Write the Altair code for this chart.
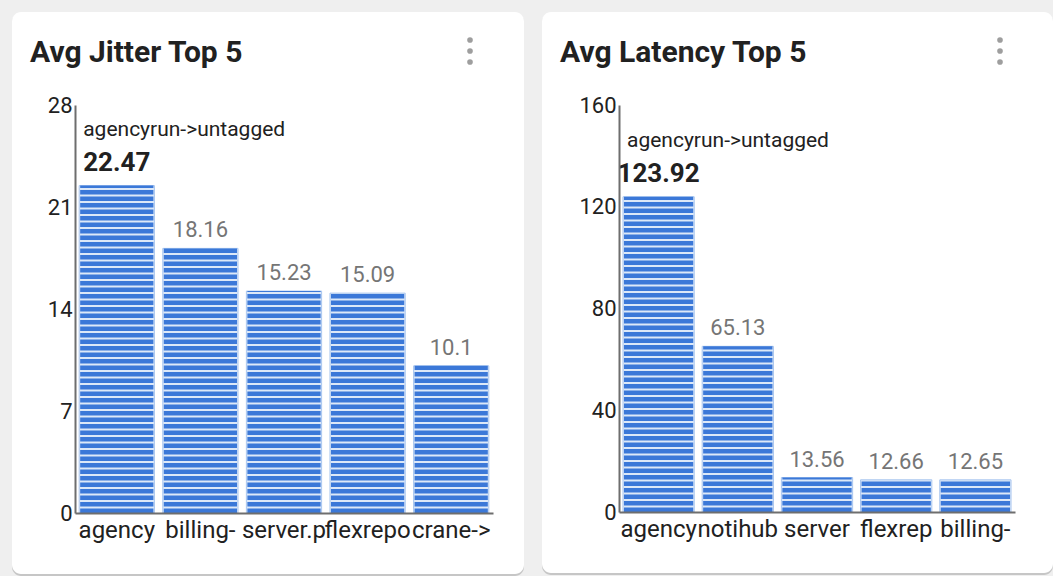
import altair as alt
import pandas as pd

# ---- data ----
jitter_cats = ["agency", "billing-", "server.p", "flexrepo", "crane->"]
jitter_vals = [22.47, 18.16, 15.23, 15.09, 10.1]
jitter_top_name = "agencyrun->untagged"
jitter_ticks = [0, 7, 14, 21, 28]

latency_cats = ["agency", "notihub", "server", "flexrep", "billing-"]
latency_vals = [123.92, 65.13, 13.56, 12.66, 12.65]
latency_top_name = "agencyrun->untagged"
latency_ticks = [0, 40, 80, 120, 160]

FONT = "Roboto"
BLUE = "#3b78d8"
GAP = "#dce8f8"
EDGE = "#a9c6ef"


def panel(title, cats, vals, top_name, ticks, width, height, rng, card, kebab_x):
    df = pd.DataFrame({"cat": cats, "value": vals, "zero": [0] * len(cats),
                       "rank": list(range(len(cats))), "name": [top_name] + [""] * (len(cats) - 1)})
    one = pd.DataFrame({"k": [0]})
    xs = alt.Scale(domain=cats, range=rng, paddingInner=0.1, paddingOuter=0.05)
    ys = alt.Scale(domain=[ticks[0], ticks[-1]], nice=False)
    x = alt.X("cat:N", scale=xs, sort=cats, title=None,
              axis=alt.Axis(labelAngle=0, labelFontSize=24, labelColor="#212121", labelFont=FONT,
                            labelPadding=5, ticks=False, domainColor="#6e6e6e", domainWidth=2,
                            labelOverlap=False, labelBound=False, labelLimit=0, zindex=2))
    bw = (rng[1] - rng[0]) / (len(cats) - 0.1 + 0.1) * 0.9

    cx0, cx1, cy0, cy1 = card
    shadow = alt.Chart(one).mark_rect(fill="#c6c6c6", cornerRadius=9).encode(
        x=alt.value(cx0), x2=alt.value(cx1), y=alt.value(cy0 + 1), y2=alt.value(cy1 + 2))
    cardm = alt.Chart(one).mark_rect(fill="white", cornerRadius=9).encode(
        x=alt.value(cx0), x2=alt.value(cx1), y=alt.value(cy0), y2=alt.value(cy1))
    titlem = alt.Chart(one).mark_text(text=title, align="left", baseline="alphabetic", font=FONT,
                                      fontSize=30, fontWeight="bold", color="#212121").encode(
        x=alt.value(cx0 + 18), y=alt.value(cy0 + 50))
    dots = [alt.Chart(one).mark_circle(size=32, color="#9e9e9e", opacity=1).encode(
        x=alt.value(kebab_x), y=alt.value(cy0 + dy)) for dy in (28, 39, 50)]

    bg = alt.Chart(df).mark_bar(fill=GAP, stroke=EDGE, strokeWidth=1).encode(
        x=x,
        y=alt.Y("value:Q", scale=ys, title=None,
                axis=alt.Axis(values=ticks, labelFontSize=22, labelColor="#212121", labelFont=FONT,
                              labelPadding=3, ticks=False, grid=False, domainColor="#6e6e6e",
                              domainWidth=2, zindex=2)))
    stripes = alt.Chart(df).mark_rule(color=BLUE, strokeWidth=bw - 2, strokeDash=[4.5, 2],
                                      strokeCap="butt").encode(
        x=alt.X("cat:N", scale=xs, sort=cats), y=alt.Y("zero:Q", scale=ys), y2="value:Q")
    labels = alt.Chart(df).transform_filter("datum.rank > 0").mark_text(
        baseline="bottom", dy=-6, fontSize=22, font=FONT, color="#757575").encode(
        x=alt.X("cat:N", scale=xs, sort=cats), y=alt.Y("value:Q", scale=ys),
        text=alt.Text("value:Q"))
    top_val = alt.Chart(df).transform_filter("datum.rank == 0").mark_text(
        baseline="alphabetic", dy=-15, fontSize=26, fontWeight="bold", font=FONT,
        color="#212121").encode(
        x=alt.X("cat:N", scale=xs, sort=cats), y=alt.Y("value:Q", scale=ys),
        text=alt.Text("value:Q"))
    top_name_m = alt.Chart(df).transform_filter("datum.rank == 0").mark_text(
        baseline="middle", align="left", dx=-bw / 2 + 4, dy=-56, fontSize=21, font=FONT,
        color="#212121").encode(
        x=alt.X("cat:N", scale=xs, sort=cats), y=alt.Y("value:Q", scale=ys), text="name:N")

    return alt.layer(shadow, cardm, titlem, *dots, bg, stripes, labels, top_val, top_name_m).properties(
        width=width, height=height)


left = panel("Avg Jitter Top 5", jitter_cats, jitter_vals, jitter_top_name, jitter_ticks,
             398, 408, [0, 418], (-63, 449, -93, 469), 395)
right = panel("Avg Latency Top 5", latency_cats, latency_vals, latency_top_name, latency_ticks,
              386, 407, [0, 396], (-77, 434, -93, 468), 381)

chart = alt.hconcat(left, right, spacing=18).properties(
    background="#efefef", padding={"left": 12, "top": 12, "right": 0, "bottom": 0}
).configure_view(stroke=None).resolve_scale(x="independent", y="independent")

chart.save("out.html", embed_options={"renderer": "svg", "actions": False})
